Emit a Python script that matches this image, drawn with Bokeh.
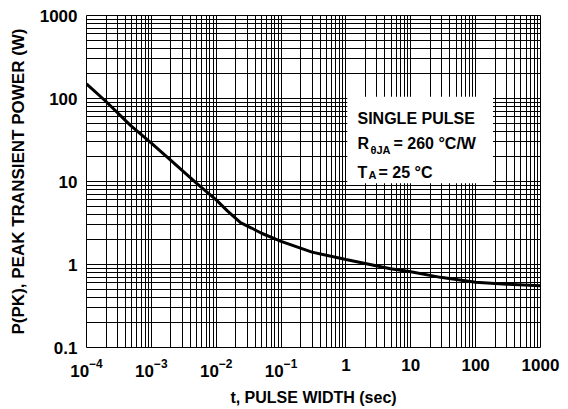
import math
from bokeh.plotting import figure
from bokeh.models import (Range1d, FixedTicker, Label, BoxAnnotation, CustomJSTickFormatter,
                          LogAxis)
from bokeh.embed import file_html
from bokeh.resources import INLINE

# ---- data ----
pulse_width = [1e-4, 2e-4, 4.76e-4, 1e-3, 2e-3, 5e-3, 1e-2, 1.5e-2, 2.37e-2, 3.5e-2, 5e-2, 1e-1,
               3e-1, 1.0, 4.87, 10.0, 28.7, 100.0, 300.0, 1000.0]
peak_power = [150, 92, 47.5, 29, 18, 9.5, 6.0, 4.4, 3.2, 2.75, 2.38, 1.9,
              1.41, 1.15, 0.89, 0.82, 0.70, 0.61, 0.58, 0.555]

x_decades = [1e-4, 1e-3, 1e-2, 1e-1, 1.0, 10.0, 100.0, 1000.0]
x_plain_labels = {1.0: "1", 10.0: "10", 100.0: "100", 1000.0: "1000"}
y_decades = [0.1, 1.0, 10.0, 100.0, 1000.0]
mantissas = [2, 3, 4, 5, 6, 7, 8, 9]

x_title = "t, PULSE WIDTH (sec)"
y_title = "P(PK), PEAK TRANSIENT POWER (W)"
legend_line1 = "SINGLE PULSE"
legend_r = ("R", "\u03b8JA", "= 260 \u00b0C/W")
legend_t = ("T", "A", "= 25 \u00b0C")

FONT = "Liberation Sans"

# where the axis titles are centred (log10 of data value)
X_TITLE_CENTER_LOG = -0.677
Y_TITLE_CENTER_LOG = 0.897

x_ticker = FixedTicker(ticks=x_decades,
                       minor_ticks=[m * d for d in x_decades[:-1] for m in mantissas])
y_ticker = FixedTicker(ticks=y_decades,
                       minor_ticks=[m * d for d in y_decades[:-1] for m in mantissas])

p = figure(width=560, height=408, x_axis_type="log", y_axis_type="log",
           x_range=Range1d(1e-4, 1000), y_range=Range1d(0.1, 1000),
           output_backend="svg", toolbar_location=None, title=None,
           min_border_left=86, min_border_right=20, min_border_top=15, min_border_bottom=60)

p.background_fill_color = "white"
p.border_fill_color = "white"
p.outline_line_color = "black"
p.outline_line_width = 1

for g, t in ((p.xgrid[0], x_ticker), (p.ygrid[0], y_ticker)):
    g.ticker = t
    g.grid_line_color = "black"
    g.grid_line_width = 1
    g.minor_grid_line_color = "black"
    g.minor_grid_line_width = 1


def strip(ax):
    ax.axis_line_color = None
    ax.major_tick_line_color = None
    ax.minor_tick_line_color = None
    ax.major_tick_out = 0
    ax.major_tick_in = 0
    ax.minor_tick_out = 0
    ax.minor_tick_in = 0
    ax.major_label_text_font = FONT
    ax.major_label_text_font_style = "bold"
    ax.major_label_text_font_size = "17px"
    ax.major_label_text_color = "black"
    ax.axis_label_text_font = FONT
    ax.axis_label_text_font_style = "bold"
    ax.axis_label_text_color = "black"


for ax in (p.xaxis[0], p.yaxis[0]):
    strip(ax)

p.yaxis.ticker = y_ticker
p.yaxis.formatter = CustomJSTickFormatter(code="return tick.toString();")
p.yaxis.major_label_standoff = 9

p.xaxis.ticker = x_ticker
p.xaxis.major_label_overrides = x_plain_labels
p.xaxis.major_label_standoff = 11

# title-only axes
xt = LogAxis(ticker=FixedTicker(ticks=[]), axis_label=x_title,
             bounds=(10 ** (X_TITLE_CENTER_LOG - 3), 10 ** (X_TITLE_CENTER_LOG + 3)))
strip(xt)
xt.major_label_standoff = 0
xt.axis_label_standoff = 9
xt.axis_label_text_font_size = "16px"
p.add_layout(xt, "below")

yt = LogAxis(ticker=FixedTicker(ticks=[]), axis_label=y_title,
             bounds=(10 ** (Y_TITLE_CENTER_LOG - 1.5), 10 ** (Y_TITLE_CENTER_LOG + 1.5)))
strip(yt)
yt.major_label_standoff = 0
yt.axis_label_standoff = 9
yt.axis_label_text_font_size = "17px"
p.add_layout(yt, "left")

p.line(pulse_width, peak_power, line_width=3, color="black")

# white box behind the legend text
p.add_layout(BoxAnnotation(left=1.05, right=185, bottom=9.5, top=105,
                           fill_color="white", fill_alpha=1.0, line_color=None))


def lab(text, dx, dy, size):
    p.add_layout(Label(x=dx, y=dy, x_units="screen", y_units="screen", text=text,
                       text_font=FONT, text_font_style="bold",
                       text_font_size=f"{size}px", text_color="black",
                       text_align="left", text_baseline="alphabetic"))


# legend text, offsets from the frame's bottom-left corner
lab(legend_line1, 271, 229, 16)
lab(legend_r[0], 271, 204, 16)
lab(legend_r[1], 284, 198, 11)
lab(legend_r[2], 307, 204, 16)
lab(legend_t[0], 271, 175, 16)
lab(legend_t[1], 282, 173, 11)
lab(legend_t[2], 292, 175, 16)

open("out.html", "w").write(file_html(p, INLINE))
